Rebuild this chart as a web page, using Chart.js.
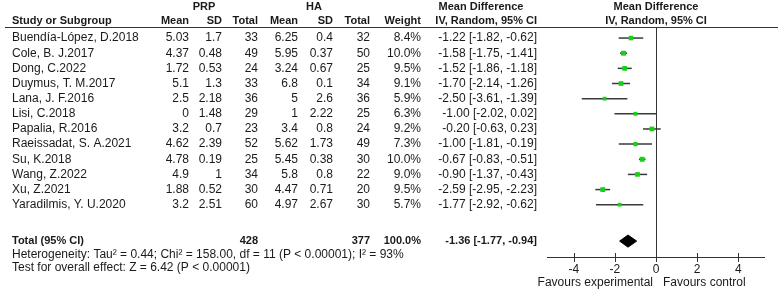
<!DOCTYPE html>
<html>
<head>
<meta charset="utf-8">
<script src="https://cdn.jsdelivr.net/npm/chart.js@4/dist/chart.umd.min.js"></script>
<style>
  html, body { margin: 0; padding: 0; background: #fff; }
  #wrap { width: 778px; height: 290px; position: relative; }
</style>
</head>
<body>
<div id="wrap"><canvas id="forest"></canvas></div>
<script>
const studies = ['Buendía-López, D.2018', 'Cole, B. J.2017', 'Dong, C.2022', 'Duymus, T. M.2017',
  'Lana, J. F.2016', 'Lisi, C.2018', 'Papalia, R.2016', 'Raeissadat, S. A.2021', 'Su, K.2018',
  'Wang, Z.2022', 'Xu, Z.2021', 'Yaradilmis, Y. U.2020'];
const prpMean = [5.03, 4.37, 1.72, 5.1, 2.5, 0, 3.2, 4.62, 4.78, 4.9, 1.88, 3.2];
const prpSD = [1.7, 0.48, 0.53, 1.3, 2.18, 1.48, 0.7, 2.39, 0.19, 1, 0.52, 2.51];
const prpTotal = [33, 49, 24, 33, 36, 29, 23, 52, 25, 34, 30, 60];
const haMean = [6.25, 5.95, 3.24, 6.8, 5, 1, 3.4, 5.62, 5.45, 5.8, 4.47, 4.97];
const haSD = [0.4, 0.37, 0.67, 0.1, 2.6, 2.22, 0.8, 1.73, 0.38, 0.8, 0.71, 2.67];
const haTotal = [32, 50, 25, 34, 36, 25, 24, 49, 30, 22, 20, 30];
const weights = [8.4, 10.0, 9.5, 9.1, 5.9, 6.3, 9.2, 7.3, 10.0, 9.0, 9.5, 5.7];
const md = [-1.22, -1.58, -1.52, -1.70, -2.50, -1.00, -0.20, -1.00, -0.67, -0.90, -2.59, -1.77];
const ciLow = [-1.82, -1.75, -1.86, -2.14, -3.61, -2.02, -0.63, -1.81, -0.83, -1.37, -2.95, -2.92];
const ciHigh = [-0.62, -1.41, -1.18, -1.26, -1.39, 0.02, 0.23, -0.19, -0.51, -0.43, -2.23, -0.62];
const total = { prp: 428, ha: 377, weight: 100.0, md: -1.36, low: -1.77, high: -0.94 };
const xTicks = [-4, -2, 0, 2, 4];

const TOTAL_ROW = 13.4;
const FONT = '"Liberation Sans", Arial, sans-serif';
const fmt = v => v.toFixed(2);
const ciText = (m, l, h) => fmt(m) + ' [' + fmt(l) + ', ' + fmt(h) + ']';

const ciSets = studies.map((s, i) => ({
  type: 'line',
  data: [{ x: ciLow[i], y: i }, { x: ciHigh[i], y: i }],
  borderColor: '#3a3a3a',
  borderWidth: 1.5,
  pointRadius: 0,
  order: 2
}));

const squares = {
  type: 'scatter',
  data: studies.map((s, i) => ({ x: md[i], y: i })),
  pointStyle: 'rect',
  pointRadius: weights.map(w => Math.sqrt(w) * 1.1),
  backgroundColor: '#14d214',
  borderWidth: 0,
  order: 1
};

const dh = 0.4;
const diamond = {
  type: 'line',
  data: [
    { x: total.low, y: TOTAL_ROW }, { x: total.md, y: TOTAL_ROW - dh },
    { x: total.high, y: TOTAL_ROW }, { x: total.md, y: TOTAL_ROW + dh },
    { x: total.low, y: TOTAL_ROW }
  ],
  borderColor: '#000',
  borderWidth: 1,
  backgroundColor: '#000',
  fill: 'shape',
  pointRadius: 0,
  tension: 0,
  order: 1
};

function txt(ctx, s, x, y, align, bold) {
  ctx.font = bold ? 'bold 11px ' + FONT : '12px ' + FONT;
  ctx.textAlign = align;
  ctx.fillText(s, x, y);
}

const tablePlugin = {
  id: 'table',
  afterDraw(chart) {
    const ctx = chart.ctx;
    const xs = chart.scales.x, ys = chart.scales.y;
    const area = chart.chartArea;
    ctx.save();
    ctx.fillStyle = '#1a1a1a';
    ctx.textBaseline = 'middle';

    // headers
    txt(ctx, 'PRP', 204, 7, 'center', true);
    txt(ctx, 'HA', 314, 7, 'center', true);
    txt(ctx, 'Mean Difference', 481, 7, 'center', true);
    txt(ctx, 'Mean Difference', 656, 7, 'center', true);
    const hy = 21;
    txt(ctx, 'Study or Subgroup', 12, hy, 'left', true);
    txt(ctx, 'Mean', 189, hy, 'right', true);
    txt(ctx, 'SD', 222, hy, 'right', true);
    txt(ctx, 'Total', 258, hy, 'right', true);
    txt(ctx, 'Mean', 298, hy, 'right', true);
    txt(ctx, 'SD', 333, hy, 'right', true);
    txt(ctx, 'Total', 370, hy, 'right', true);
    txt(ctx, 'Weight', 421, hy, 'right', true);
    txt(ctx, 'IV, Random, 95% CI', 537, hy, 'right', true);
    txt(ctx, 'IV, Random, 95% CI', 656, hy, 'center', true);

    // study rows
    studies.forEach((s, i) => {
      const y = ys.getPixelForValue(i);
      txt(ctx, s, 12, y, 'left');
      txt(ctx, String(prpMean[i]), 189, y, 'right');
      txt(ctx, String(prpSD[i]), 222, y, 'right');
      txt(ctx, String(prpTotal[i]), 258, y, 'right');
      txt(ctx, String(haMean[i]), 298, y, 'right');
      txt(ctx, String(haSD[i]), 333, y, 'right');
      txt(ctx, String(haTotal[i]), 370, y, 'right');
      txt(ctx, weights[i].toFixed(1) + '%', 421, y, 'right');
      txt(ctx, ciText(md[i], ciLow[i], ciHigh[i]), 537, y, 'right');
    });

    // total row
    const ty = ys.getPixelForValue(TOTAL_ROW);
    txt(ctx, 'Total (95% CI)', 12, ty, 'left', true);
    txt(ctx, String(total.prp), 258, ty, 'right', true);
    txt(ctx, String(total.ha), 370, ty, 'right', true);
    txt(ctx, total.weight.toFixed(1) + '%', 421, ty, 'right', true);
    txt(ctx, ciText(total.md, total.low, total.high), 537, ty, 'right', true);
    txt(ctx, 'Heterogeneity: Tau² = 0.44; Chi² = 158.00, df = 11 (P < 0.00001); I² = 93%', 12, 255, 'left');
    txt(ctx, 'Test for overall effect: Z = 6.42 (P < 0.00001)', 12, 268, 'left');

    // favours labels
    const x0 = xs.getPixelForValue(0);
    txt(ctx, 'Favours experimental', x0 - 3, 283, 'right');
    txt(ctx, 'Favours control', x0 + 7, 283, 'left');

    // header rule
    ctx.strokeStyle = '#333';
    ctx.lineWidth = 1;
    ctx.beginPath();
    ctx.moveTo(5, 27.5);
    ctx.lineTo(778, 27.5);
    ctx.stroke();

    // line of no effect
    ctx.beginPath();
    ctx.moveTo(Math.round(x0) + 0.5, area.top);
    ctx.lineTo(Math.round(x0) + 0.5, area.bottom);
    ctx.stroke();

    // axis line and tick marks crossing it
    ctx.beginPath();
    ctx.moveTo(area.left, area.bottom + 0.5);
    ctx.lineTo(area.right, area.bottom + 0.5);
    xTicks.forEach(t => {
      const px = Math.round(xs.getPixelForValue(t)) + 0.5;
      ctx.moveTo(px, area.bottom - 4);
      ctx.lineTo(px, area.bottom + 5);
    });
    ctx.stroke();
    ctx.restore();
  }
};

new Chart(document.getElementById('forest'), {
  data: { datasets: [...ciSets, squares, diamond] },
  options: {
    responsive: true,
    maintainAspectRatio: false,
    animation: false,
    events: [],
    layout: { padding: { left: 547, right: 13, top: 27, bottom: 12 } },
    plugins: { legend: { display: false }, tooltip: { enabled: false } },
    scales: {
      x: {
        type: 'linear',
        min: -5.3,
        max: 5.3,
        afterBuildTicks: scale => { scale.ticks = xTicks.map(v => ({ value: v })); },
        afterFit: scale => { scale.height = 21; },
        grid: { display: false, drawTicks: false },
        border: { display: false },
        ticks: { color: '#1a1a1a', padding: 5, font: { family: FONT, size: 12 } }
      },
      y: {
        type: 'linear',
        display: false,
        reverse: true,
        min: -0.73,
        max: 14.45
      }
    }
  },
  plugins: [tablePlugin]
});
</script>
</body>
</html>
